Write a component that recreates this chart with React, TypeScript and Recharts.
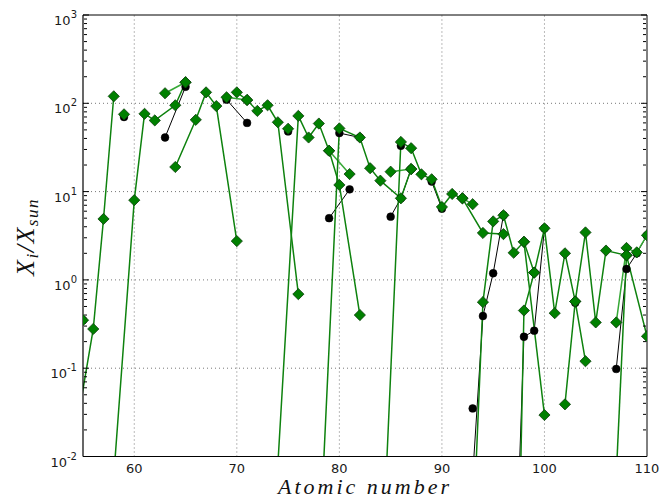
import React from 'react';
import { ComposedChart, Line, XAxis, YAxis } from 'recharts';

type Pt = [number, number];

// ---- tick values / labels ----
const xMajorTicks = [60, 70, 80, 90, 100, 110];
const xTickLabels = ['60', '70', '80', '90', '100', '110'];
const xGridTicks = [60, 70, 80, 90, 100];
const yMajorTicks = [0.01, 0.1, 1, 10, 100, 1000];
const yTickExponents = ['-2', '-1', '0', '1', '2', '3'];
const yGridTicks = [0.1, 1, 10, 100];
const xMinorTicks: number[] = [];
for (let z = 55; z <= 110; z++) xMinorTicks.push(z);
const yMinorTicks: number[] = [];
[0.01, 0.1, 1, 10, 100].forEach((d) => [2, 3, 4, 5, 6, 7, 8, 9].forEach((m) => yMinorTicks.push(+(d * m).toPrecision(3))));

// ---- black series (circles) ----
const blkA: Pt[] = [[55, 0.35]];
const blkB: Pt[] = [[59, 70]];
const blkC: Pt[] = [[63, 41], [65, 154]];
const blkD: Pt[] = [[69, 110], [71, 60]];
const blkE: Pt[] = [[75, 48]];
const blkF: Pt[] = [[79, 5.0], [81, 10.6]];
const blkG: Pt[] = [[80, 46], [82, 41]];
const blkH: Pt[] = [[85, 5.2], [86, 8.4], [87, 18]];
const blkI: Pt[] = [[86, 33]];
const blkJ: Pt[] = [[89, 13], [90, 6.4]];
const blkK: Pt[] = [[93, 0.035]];
const blkL: Pt[] = [[93, 0.006], [94, 0.39], [95, 1.19], [96, 5.4]];
const blkM: Pt[] = [[97, 0.0001], [98, 0.227], [99, 0.266], [100, 3.84]];
const blkN: Pt[] = [[103, 0.55]];
const blkO: Pt[] = [[107, 0.098], [108, 1.33], [109, 2.0], [110, 3.2]];

// ---- green series (diamonds) ----
const grnA: Pt[] = [[54, 0.012], [56, 0.278], [57, 4.9], [58, 120]];
const grnB: Pt[] = [[58, 0.006], [60, 8.0], [61, 76], [62, 64], [64, 95], [65, 173]];
const grnC: Pt[] = [[63, 130], [65, 173]];
const grnD: Pt[] = [[64, 19], [66, 65], [67, 133], [68, 93], [70, 2.75]];
const grnE: Pt[] = [[69, 117], [71, 109]];
const grnF: Pt[] = [[70, 133], [71, 109], [72, 82], [73, 95], [74, 61], [76, 0.69]];
const grnG: Pt[] = [[74, 0.008], [76, 72], [77, 41], [78, 59], [79, 29], [80, 11.9], [82, 0.4]];
const grnH: Pt[] = [[79, 29], [81, 15.8]];
const grnI: Pt[] = [[78, 0.0006], [80, 52], [82, 41], [83, 18.4], [84, 13.3], [86, 8.4], [87, 18]];
const grnJ: Pt[] = [[85, 16.8], [87, 18]];
const grnK: Pt[] = [[84, 0.0002], [86, 36.5], [87, 31], [88, 15.7], [89, 13.8], [90, 6.7], [91, 9.4], [92, 8.4], [94, 3.4], [96, 3.3]];
const grnL: Pt[] = [[92, 8.4], [93, 7.2]];
const grnM: Pt[] = [[93, 0.001], [94, 0.56], [95, 4.6], [96, 5.4], [97, 2.03], [98, 2.7], [99, 1.21], [100, 3.84], [101, 0.42], [102, 2.0], [103, 0.57], [104, 3.45], [105, 0.33], [106, 2.15], [108, 1.9], [110, 0.23]];
const grnN: Pt[] = [[97, 0.000001], [98, 0.45], [99, 1.21]];
const grnO: Pt[] = [[98, 2.7], [100, 0.0295]];
const grnP: Pt[] = [[102, 0.039], [103, 0.57], [104, 0.12]];
const grnQ: Pt[] = [[107, 0.33], [108, 2.3], [109, 2.05], [110, 3.2]];
const grnR: Pt[] = [[107, 0.006], [108, 1.9]];
const grnS: Pt[] = [[55, 0.35]];
const grnT: Pt[] = [[59, 75]];
const grnU: Pt[] = [[75, 51.5]];

const DARK = '#0e820e';
const LIGHT = '#35a835';

const blackSeries = [blkA, blkB, blkC, blkD, blkE, blkF, blkG, blkH, blkI, blkJ, blkK, blkL, blkM, blkN, blkO];
const greenSeries: { pts: Pt[]; color: string }[] = [
  { pts: grnA, color: DARK }, { pts: grnB, color: DARK }, { pts: grnC, color: LIGHT }, { pts: grnD, color: DARK },
  { pts: grnE, color: LIGHT }, { pts: grnF, color: DARK }, { pts: grnG, color: DARK }, { pts: grnH, color: LIGHT },
  { pts: grnI, color: DARK }, { pts: grnJ, color: LIGHT }, { pts: grnK, color: DARK }, { pts: grnL, color: LIGHT },
  { pts: grnM, color: DARK }, { pts: grnN, color: DARK }, { pts: grnO, color: DARK }, { pts: grnP, color: DARK },
  { pts: grnQ, color: LIGHT }, { pts: grnR, color: DARK }, { pts: grnS, color: DARK }, { pts: grnT, color: DARK },
  { pts: grnU, color: DARK },
];

const X_DOMAIN: [number, number] = [55, 110];
const Y_DOMAIN: [number, number] = [0.01, 1000];

const toData = (pts: Pt[]) => pts.map(([z, v]) => ({ z, v }));
// grid lines: drawn through the chart's own scales, spanning the axis domains
const vGridData = xGridTicks.map((t) => [{ z: t, v: Y_DOMAIN[0] }, { z: t, v: Y_DOMAIN[1] }]);
const hGridData = yGridTicks.map((t) => [{ z: X_DOMAIN[0], v: t }, { z: X_DOMAIN[1], v: t }]);

const okNum = (n: any) => typeof n === 'number' && isFinite(n);

const renderDiamond = (props: any) => {
  const { cx, cy, index } = props;
  const k = `dm-${index}-${cx}-${cy}`;
  if (!okNum(cx) || !okNum(cy)) return <g key={k} />;
  const r = 5.6;
  return (
    <polygon key={k} points={`${cx},${cy - r} ${cx + r},${cy} ${cx},${cy + r} ${cx - r},${cy}`}
      fill="#008000" stroke="#0b3d0b" strokeWidth={0.8} />
  );
};

const renderCircle = (props: any) => {
  const { cx, cy, index } = props;
  const k = `ci-${index}-${cx}-${cy}`;
  if (!okNum(cx) || !okNum(cy)) return <g key={k} />;
  return <circle key={k} cx={cx} cy={cy} r={3.9} fill="#000" stroke="#000" strokeWidth={0.5} />;
};

const FONT = 'DejaVu Sans, sans-serif';

const XTick = (props: any) => {
  const { x, y, payload } = props;
  const i = xMajorTicks.indexOf(payload.value);
  return (
    <text x={x} y={y + 10} textAnchor="middle" fontFamily={FONT} fontSize={13} fill="#1a1a1a">
      {xTickLabels[i]}
    </text>
  );
};

const YTick = (props: any) => {
  const { x, y, payload } = props;
  const i = yMajorTicks.findIndex((t) => Math.abs(t - payload.value) < t * 1e-6);
  return (
    <text x={x} y={y + 10} textAnchor="end" fontFamily={FONT} fontSize={13} fill="#1a1a1a">
      <tspan>10</tspan>
      <tspan dy={-7} fontSize={10}>{yTickExponents[i]}</tspan>
    </text>
  );
};

const EmptyTick = () => <g />;

const TICK_LINE = { stroke: '#000', strokeWidth: 1 };
const GRID_COLOR = '#777';

export default function App() {
  return (
    <div style={{ position: 'absolute', left: 0, top: 0, width: 661, height: 503, background: '#fff' }}>
      <ComposedChart width={661} height={503} margin={{ top: 15, right: 14, bottom: 16.5, left: 23 }}>
        <XAxis xAxisId="x" type="number" dataKey="z" domain={X_DOMAIN} allowDataOverflow ticks={xMajorTicks}
          interval={0} height={30} tickSize={0} tickMargin={6} tickLine={false}
          axisLine={{ stroke: '#000', strokeWidth: 1 }} tick={<XTick />} />
        <XAxis xAxisId="xMajB" type="number" domain={X_DOMAIN} allowDataOverflow ticks={xMajorTicks}
          interval={0} mirror height={1} tick={<EmptyTick />} tickSize={6} axisLine={false} tickLine={TICK_LINE} />
        <XAxis xAxisId="xMinB" type="number" domain={X_DOMAIN} allowDataOverflow ticks={xMinorTicks}
          interval={0} mirror height={1} tick={<EmptyTick />} tickSize={3} axisLine={false} tickLine={TICK_LINE} />
        <XAxis xAxisId="xMajT" orientation="top" type="number" domain={X_DOMAIN} allowDataOverflow
          ticks={xMajorTicks} interval={0} mirror height={1} tick={<EmptyTick />} tickSize={6}
          axisLine={{ stroke: '#000', strokeWidth: 1 }} tickLine={TICK_LINE} />
        <XAxis xAxisId="xMinT" orientation="top" type="number" domain={X_DOMAIN} allowDataOverflow
          ticks={xMinorTicks} interval={0} mirror height={1} tick={<EmptyTick />} tickSize={3} axisLine={false}
          tickLine={TICK_LINE} />

        <YAxis yAxisId="y" type="number" scale="log" dataKey="v" domain={Y_DOMAIN} allowDataOverflow
          ticks={yMajorTicks} interval={0} width={60} tickSize={0} tickMargin={6} tickLine={false}
          axisLine={{ stroke: '#000', strokeWidth: 1.2 }} tick={<YTick />} />
        <YAxis yAxisId="yMajL" type="number" scale="log" domain={Y_DOMAIN} allowDataOverflow ticks={yMajorTicks}
          interval={0} mirror width={1} tick={<EmptyTick />} tickSize={6} axisLine={false} tickLine={TICK_LINE} />
        <YAxis yAxisId="yMinL" type="number" scale="log" domain={Y_DOMAIN} allowDataOverflow ticks={yMinorTicks}
          interval={0} mirror width={1} tick={<EmptyTick />} tickSize={3} axisLine={false} tickLine={TICK_LINE} />
        <YAxis yAxisId="yMajR" orientation="right" type="number" scale="log" domain={Y_DOMAIN} allowDataOverflow
          ticks={yMajorTicks} interval={0} mirror width={1} tick={<EmptyTick />} tickSize={6}
          axisLine={{ stroke: '#000', strokeWidth: 1 }} tickLine={TICK_LINE} />
        <YAxis yAxisId="yMinR" orientation="right" type="number" scale="log" domain={Y_DOMAIN} allowDataOverflow
          ticks={yMinorTicks} interval={0} mirror width={1} tick={<EmptyTick />} tickSize={3} axisLine={false}
          tickLine={TICK_LINE} />

        {vGridData.map((d, i) => (
          <Line key={`gv${i}`} name={`gv${i}`} xAxisId="x" yAxisId="y" data={d} dataKey="v" stroke={GRID_COLOR}
            strokeWidth={1} strokeDasharray="1 3" dot={false} activeDot={false} isAnimationActive={false} />
        ))}
        {hGridData.map((d, i) => (
          <Line key={`gh${i}`} name={`gh${i}`} xAxisId="x" yAxisId="y" data={d} dataKey="v" stroke={GRID_COLOR}
            strokeWidth={1} strokeDasharray="1 3" dot={false} activeDot={false} isAnimationActive={false} />
        ))}

        {blackSeries.map((pts, i) => (
          <Line key={`b${i}`} name={`b${i}`} xAxisId="x" yAxisId="y" data={toData(pts)} dataKey="v"
            stroke="#000" strokeWidth={1} dot={renderCircle} activeDot={false} isAnimationActive={false} />
        ))}
        {greenSeries.map((s, i) => (
          <Line key={`g${i}`} name={`g${i}`} xAxisId="x" yAxisId="y" data={toData(s.pts)} dataKey="v"
            stroke={s.color} strokeWidth={1.5} dot={renderDiamond} activeDot={false} isAnimationActive={false} />
        ))}
      </ComposedChart>
      <svg width={661} height={503} style={{ position: 'absolute', left: 0, top: 0, pointerEvents: 'none' }}>
        <text x={365} y={494} textAnchor="middle" fontFamily="Liberation Serif, serif" fontStyle="italic"
          fontSize={22} letterSpacing={3} fill="#111">Atomic number</text>
        <text transform="translate(34,237) rotate(-90)" textAnchor="middle" fontFamily="Liberation Serif, serif"
          fontStyle="italic" fontSize={26} letterSpacing={1.5} fill="#111">
          X<tspan fontSize={17} dy={4}>i</tspan><tspan dy={-4}>/X</tspan><tspan fontSize={17} dy={4}>sun</tspan>
        </text>
      </svg>
    </div>
  );
}
